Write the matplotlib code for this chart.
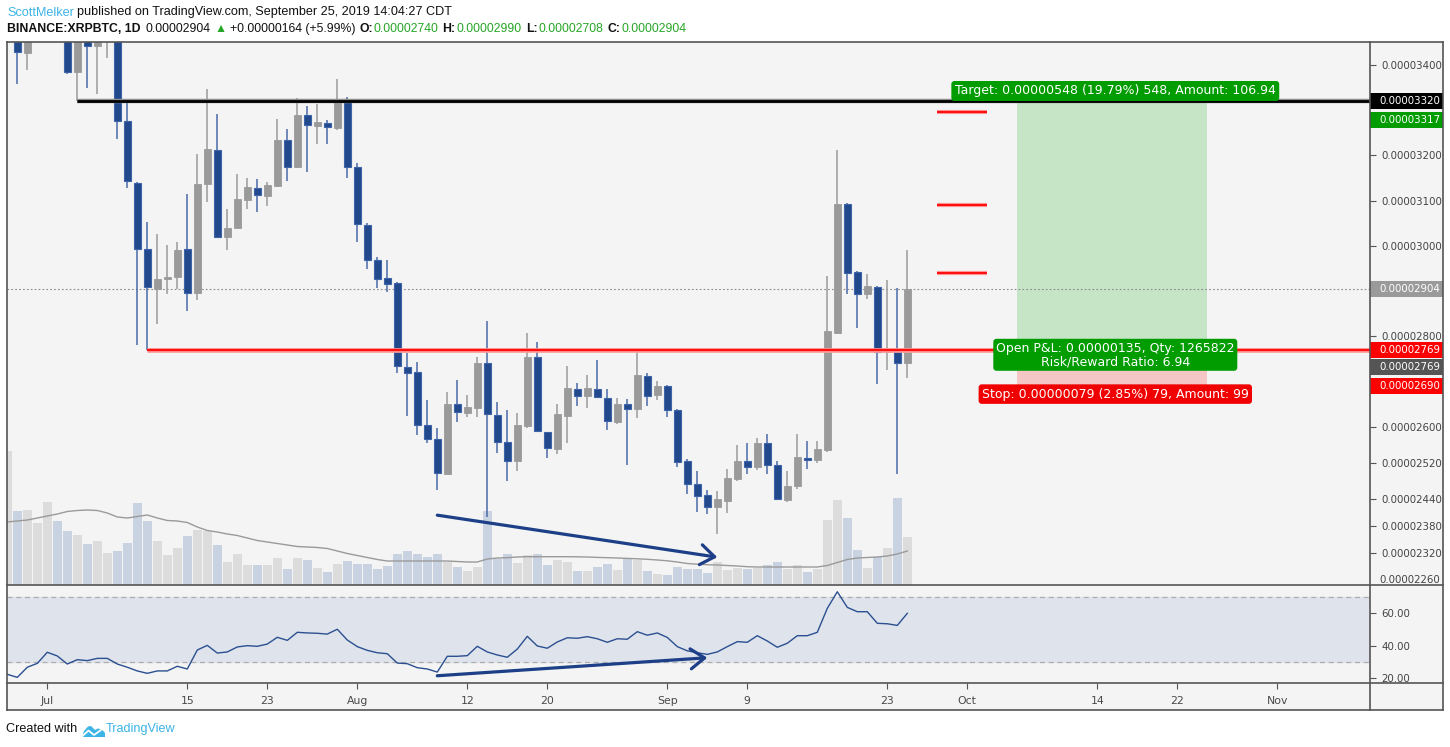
import numpy as np
import pandas as pd
import matplotlib
matplotlib.use('Agg')
import matplotlib.pyplot as plt
import matplotlib.dates as mdates
from matplotlib import font_manager
from matplotlib.lines import Line2D
from matplotlib.patches import Rectangle, FancyArrowPatch, Polygon
from matplotlib.transforms import (blended_transform_factory, ScaledTranslation,
                                   Bbox, TransformedBbox)

# ---- data: XRPBTC daily candles, prices in satoshi (1e-8 BTC) ----
dates = pd.date_range('2019-06-27', '2019-09-25', freq='D')

opens = [3470, 3520, 3427, 3505, 3570, 3610, 3520, 3385, 3470, 3441,
         3462, 3480, 3276, 3140, 2992, 2905, 2927, 2930, 2992, 2895,
         3137, 3211, 3020, 3040, 3102, 3128, 3111, 3133, 3234, 3174,
         3289, 3266, 3271, 3261, 3322, 3174, 3045, 2968, 2929, 2917,
         2731, 2720, 2603, 2572, 2496, 2651, 2631, 2642, 2740, 2625,
         2565, 2523, 2602, 2755, 2587, 2551, 2624, 2683, 2668, 2683,
         2663, 2611, 2651, 2640, 2711, 2670, 2689, 2636, 2523, 2473,
         2448, 2422, 2436, 2484, 2523, 2511, 2563, 2514, 2437, 2469,
         2531, 2526, 2548, 2807, 3093, 2942, 2894, 2909, 2764, 2768,
         2740]
highs = [3560, 3540, 3530, 3600, 3650, 3630, 3540, 3490, 3490, 3480,
         3500, 3495, 3325, 3142, 3052, 3026, 3002, 3008, 3115, 3203,
         3347, 3291, 3081, 3159, 3150, 3148, 3141, 3280, 3258, 3327,
         3309, 3314, 3278, 3369, 3329, 3184, 3050, 2975, 2968, 2920,
         2763, 2743, 2659, 2597, 2677, 2703, 2670, 2753, 2834, 2654,
         2637, 2630, 2807, 2787, 2589, 2650, 2734, 2696, 2714, 2748,
         2683, 2664, 2660, 2768, 2719, 2701, 2692, 2638, 2528, 2502,
         2460, 2457, 2506, 2560, 2564, 2575, 2584, 2524, 2502, 2584,
         2568, 2568, 2933, 3212, 3094, 2944, 2938, 2910, 2924, 2907,
         2990]
lows = [3460, 3357, 3390, 3470, 3530, 3480, 3381, 3320, 3350, 3335,
        3416, 3236, 3127, 2780, 2769, 2828, 2894, 2905, 2856, 2881,
        3098, 3018, 2991, 3039, 3082, 3075, 3089, 3131, 3144, 3173,
        3164, 3226, 3226, 3257, 3151, 3009, 2948, 2907, 2898, 2719,
        2624, 2582, 2564, 2460, 2494, 2611, 2622, 2622, 2401, 2542,
        2480, 2502, 2596, 2588, 2531, 2540, 2564, 2646, 2642, 2663,
        2593, 2606, 2516, 2618, 2646, 2658, 2622, 2511, 2450, 2411,
        2407, 2362, 2409, 2480, 2496, 2504, 2496, 2438, 2433, 2463,
        2507, 2520, 2544, 2805, 2893, 2819, 2883, 2694, 2726, 2494,
        2708]
closes = [3520, 3428, 3505, 3570, 3610, 3520, 3385, 3470, 3441, 3462,
          3480, 3276, 3143, 2992, 2908, 2926, 2930, 2991, 2895, 3137,
          3214, 3020, 3039, 3103, 3130, 3112, 3134, 3234, 3175, 3289,
          3267, 3274, 3262, 3322, 3174, 3048, 2968, 2927, 2916, 2733,
          2719, 2603, 2572, 2497, 2651, 2632, 2643, 2741, 2627, 2565,
          2523, 2604, 2755, 2590, 2552, 2628, 2685, 2667, 2685, 2665,
          2612, 2651, 2640, 2714, 2668, 2690, 2636, 2521, 2472, 2447,
          2423, 2440, 2486, 2524, 2511, 2564, 2514, 2439, 2469, 2532,
          2526, 2550, 2811, 3093, 2940, 2894, 2911, 2764, 2768, 2740,
          2904]
# volume in millions of XRP
volume = [134, 74, 75, 62, 83, 64, 54, 50, 41, 44,
          32, 34, 42, 82, 64, 44, 30, 37, 49, 55,
          54, 40, 23, 31, 20, 20, 20, 27, 16, 27,
          25, 17, 13, 21, 24, 21, 21, 16, 19, 31,
          34, 31, 28, 31, 23, 18, 14, 18, 74, 26,
          31, 22, 30, 31, 20, 25, 23, 14, 14, 18,
          21, 15, 26, 25, 14, 11, 10, 18, 16, 16,
          12, 23, 15, 17, 16, 17, 20, 23, 16, 20,
          13, 16, 65, 85, 67, 35, 17, 28, 37, 87,
          48]
volume_ma = [63, 64, 65, 67, 69, 71, 73.5, 74.5, 75, 74.5,
             72, 68, 67, 68.5, 70, 67, 64.5, 64, 62.5, 58,
             54.5, 53, 51, 49.5, 47, 44.5, 43, 41.5, 40, 38.5,
             38, 37.5, 36.5, 34, 31.5, 29.5, 27.5, 25.5, 24, 24,
             24, 24, 24, 24, 24, 23.5, 23, 23, 26, 27,
             27.3, 28, 28.3, 28.3, 28.3, 28.3, 28.3, 28.2, 28, 27.6,
             27.3, 27, 26.6, 26.2, 25.7, 25, 24.2, 23, 21.5, 20.8,
             20.3, 20, 19.5, 19, 18.3, 18, 18, 18, 18, 18,
             18, 18, 19.5, 22.5, 25.5, 27, 27.5, 28, 29, 31,
             34]
rsi = [22.1, 20.2, 26.5, 28.9, 35.8, 33.5, 28.5, 31.2, 30.6, 32.0,
       32.0, 28.5, 26.5, 24.2, 22.7, 24.2, 24.2, 27.1, 25.4, 37.2,
       40.1, 35.3, 36.0, 39.1, 39.9, 39.5, 40.9, 45.1, 43.2, 48.2,
       47.8, 47.6, 47.1, 50.1, 43.4, 39.3, 37.0, 35.5, 34.9, 29.1,
       28.7, 26.2, 25.4, 23.5, 33.3, 33.3, 33.7, 39.5, 36.0, 34.1,
       32.7, 37.8, 45.7, 39.7, 38.3, 42.2, 44.8, 44.5, 45.5, 44.2,
       42.0, 44.2, 43.9, 48.6, 46.4, 47.8, 45.0, 39.3, 36.7, 35.5,
       34.5, 36.0, 39.3, 42.4, 42.0, 46.1, 42.8, 38.9, 41.4, 46.1,
       46.1, 48.2, 63.1, 73.4, 63.7, 61.0, 61.0, 53.8, 53.5, 52.5,
       60.0]

price_ticks = [3400, 3200, 3100, 3000, 2800, 2600, 2520, 2440, 2380, 2320]
price_tick_cut = 2260
rsi_ticks = [20, 40, 60]
tick_dates = ['2019-07-01', '2019-07-15', '2019-07-23', '2019-08-01', '2019-08-12',
              '2019-08-20', '2019-09-01', '2019-09-09', '2019-09-23', '2019-10-01',
              '2019-10-14', '2019-10-22', '2019-11-01']
tick_labels = ['Jul', '15', '23', 'Aug', '12', '20', 'Sep', '9', '23', 'Oct', '14', '22', 'Nov']

# drawings
resistance, resistance_from = 3320, '2019-07-04'
entry, entry_from = 2769, '2019-07-11'
target, stop = 3317, 2690
pos_from, pos_to = '2019-10-06', '2019-10-25'
qty, amount_target, amount_stop = 1265822, '106.94', '99'
target_marks = [3297, 3091, 2940]
marks_from, marks_to = '2019-09-28', '2019-10-03'
vol_trend_dates, vol_trend_prices = ['2019-08-09', '2019-09-06'], [2404, 2311]
rsi_trend_dates, rsi_trend_vals = ['2019-08-09', '2019-09-05'], [21.2, 32.4]

# ---- layout (pixels) ----
W, H = 1450, 747
L, R, AXR = 7, 1370, 1443
TOP, MID, RSIB, BOT = 42, 585, 683, 710
P_TOP, P_BOT = 3450.9, 2249.5
RSI_TOP, RSI_BOT = 77.6, 16.7

avail = {f.name for f in font_manager.fontManager.ttflist}
HEAD = 'Liberation Sans' if 'Liberation Sans' in avail else 'DejaVu Sans'
plt.rcParams['font.family'] = ['DejaVu Sans']

fig = plt.figure(figsize=(W / 100, H / 100), dpi=100)
fig.patch.set_facecolor('white')


def box(x0, y0, x1, y1):
    return [x0 / W, 1 - y1 / H, (x1 - x0) / W, (y1 - y0) / H]


def fx(x):
    return x / W


def fy(y):
    return 1 - y / H


fig.add_artist(Rectangle((fx(L), fy(BOT)), fx(AXR) - fx(L), fy(TOP) - fy(BOT),
                         transform=fig.transFigure, fc='#f4f4f4', ec='none', zorder=-5))

x = mdates.date2num(dates)
o, h, l, c = map(np.array, (opens, highs, lows, closes))
up = c >= o
x0 = mdates.date2num(pd.Timestamp('2019-06-27'))
xlim = (x0 - 0.03, x0 + (R - L - 0.3) / 10)

ax_vol = fig.add_axes(box(L, TOP, R, MID))
ax_main = fig.add_axes(box(L, TOP, R, MID), sharex=ax_vol)
ax_rsi = fig.add_axes(box(L, MID, R, RSIB), sharex=ax_vol)
ax_vol.set_zorder(1)
ax_main.set_zorder(2)
ax_rsi.set_zorder(2)
for a in (ax_vol, ax_main, ax_rsi):
    a.set_facecolor('none')
    for s in a.spines.values():
        s.set_visible(False)
ax_vol.set_xlim(*xlim)

# volume
ax_vol.bar(x, volume, width=0.9, color=np.where(up, '#dcdcdc', '#c9d2e0'), zorder=2)
ax_vol.plot(x, volume_ma, color='#9a9a9a', lw=1, zorder=3)
ax_vol.set_ylim(0, MID - TOP)
ax_vol.set_yticks([])
ax_vol.tick_params(bottom=False, labelbottom=False)

# candles
ax = ax_main
body_lo = np.minimum(o, c)
body_h = np.maximum(np.abs(c - o), 2)
ax.vlines(x[up], l[up], h[up], color='#9a9a9a', lw=1.1, zorder=3)
ax.vlines(x[~up], l[~up], h[~up], color='#4a6aa8', lw=1.1, zorder=3)
ax.bar(x[up], body_h[up], bottom=body_lo[up], width=0.64, color='#9a9a9a',
       edgecolor='#9a9a9a', lw=0.6, zorder=4)
ax.bar(x[~up], body_h[~up], bottom=body_lo[~up], width=0.64, color='#21498c',
       edgecolor='#3d64a8', lw=0.8, zorder=4)
ax.set_ylim(P_BOT, P_TOP)

far = mdates.date2num(pd.Timestamp('2020-01-31'))
ax.axhline(c[-1], color='#8a8a8a', lw=0.8, ls=(0, (1.5, 2)), zorder=2)
rx = mdates.date2num(pd.Timestamp(resistance_from))
ax.hlines(resistance, rx, far, color='#8c8c8c', lw=3.2, zorder=5)
ax.hlines(resistance, rx, far, color='#000000', lw=2.0, zorder=5)
ex = mdates.date2num(pd.Timestamp(entry_from))
ax.hlines(entry, ex, far, color='#ff9a9a', lw=3.4, zorder=5)
ax.hlines(entry, ex, far, color='#ff1010', lw=1.6, zorder=5)
mx0, mx1 = mdates.date2num(pd.Timestamp(marks_from)), mdates.date2num(pd.Timestamp(marks_to))
ax.hlines(target_marks, mx0, mx1, color='#ff9a9a', lw=3.0, zorder=5)
ax.hlines(target_marks, mx0, mx1, color='#ff1010', lw=1.5, zorder=5)

# long position tool
px0, px1 = mdates.date2num(pd.Timestamp(pos_from)), mdates.date2num(pd.Timestamp(pos_to))
ax.add_patch(Rectangle((px0, entry), px1 - px0, target - entry, fc='#c6e5c6', ec='none', zorder=1))
ax.add_patch(Rectangle((px0, stop), px1 - px0, entry - stop, fc='#f5c6c6', ec='none', zorder=1))
pmid = (px0 + px1) / 2 + 0.3
lab_kw = dict(ha='center', va='center', color='white', fontsize=9, zorder=7,
              textcoords='offset points', annotation_clip=False)
gain, loss = target - entry, entry - stop
ax.annotate(f"Target: {gain * 1e-8:.8f} ({gain / entry * 100:.2f}%) {gain}, Amount: {amount_target}",
            (pmid, target), xytext=(0, 8.3),
            bbox=dict(boxstyle='round,pad=0.28,rounding_size=0.25', fc='#009c00', ec='none'), **lab_kw)
ax.annotate(f"Open P&L: {(c[-1] - entry) * 1e-8:.8f}, Qty: {qty}\nRisk/Reward Ratio: {gain / loss:.2f}",
            (pmid, entry), xytext=(0, -3.3), linespacing=1.05,
            bbox=dict(boxstyle='round,pad=0.22,rounding_size=0.25', fc='#009c00', ec='none'), **lab_kw)
ax.annotate(f"Stop: {loss * 1e-8:.8f} ({loss / entry * 100:.2f}%) {loss}, Amount: {amount_stop}",
            (pmid, stop), xytext=(0, -5.9),
            bbox=dict(boxstyle='round,pad=0.26,rounding_size=0.25', fc='#f00000', ec='none'), **lab_kw)

# trend arrows
arrow_kw = dict(arrowstyle='->,head_length=0.5,head_width=0.36', mutation_scale=20,
                color='#1d3f88', lw=2.3, shrinkA=0, shrinkB=0, zorder=6)
vd = mdates.date2num(pd.to_datetime(vol_trend_dates))
ax.add_patch(FancyArrowPatch((vd[0], vol_trend_prices[0]), (vd[1], vol_trend_prices[1]), **arrow_kw))

# price scale
ax.yaxis.tick_right()
ax.set_yticks(price_ticks)
ax.set_yticklabels([f"{v * 1e-8:.8f}" for v in price_ticks])
ax.tick_params(axis='y', direction='out', length=4, width=0.8, color='#555555', pad=4,
               labelsize=7.4, labelcolor='#444444')
ax.tick_params(axis='x', bottom=False, labelbottom=False)
col = blended_transform_factory(ax.transAxes, ax.transData)
lx = 1 + 9 / (R - L)
t = ax.text(lx, price_tick_cut, f"{price_tick_cut * 1e-8:.8f}", transform=col, va='center',
            ha='left', fontsize=7.4, color='#444444', clip_on=True)
t.set_clip_box(TransformedBbox(Bbox([[1.0, 0.0], [1.06, 1.0]]), ax.transAxes))

ppx = (P_TOP - P_BOT) / (MID - TOP)
tags = [(resistance, '#000000', 0), (target, '#009c00', 17), (c[-1], '#9a9a9a', 0),
        (entry, '#ff0000', 0), (entry, '#555555', 17), (stop, '#ff0000', 0)]
for price, color, shift in tags:
    tr = col + ScaledTranslation(0, -shift / 100, fig.dpi_scale_trans)
    ax.add_patch(Rectangle((1.0, price - 8 * ppx), (AXR - R) / (R - L), 16 * ppx, transform=tr,
                           fc=color, ec='none', clip_on=False, zorder=8))
    ax.text(lx, price, f"{price * 1e-8:.8f}", transform=tr, va='center', ha='left',
            fontsize=7.4, color='white', zorder=9, clip_on=False)

# RSI
ax_rsi.axhspan(30, 70, color='#dfe4ec', zorder=0)
ax_rsi.axhline(70, color='#adadad', lw=0.9, ls=(0, (4, 3)), zorder=1)
ax_rsi.axhline(30, color='#adadad', lw=0.9, ls=(0, (4, 3)), zorder=1)
ax_rsi.plot(x, rsi, color='#2b4f90', lw=1, zorder=3)
rd = mdates.date2num(pd.to_datetime(rsi_trend_dates))
ax_rsi.add_patch(FancyArrowPatch((rd[0], rsi_trend_vals[0]), (rd[1], rsi_trend_vals[1]), **arrow_kw))
ax_rsi.set_ylim(RSI_BOT, RSI_TOP)
ax_rsi.yaxis.tick_right()
ax_rsi.set_yticks(rsi_ticks)
ax_rsi.set_yticklabels([f"{v:.2f}" for v in rsi_ticks])
ax_rsi.tick_params(axis='y', direction='out', length=4, width=0.8, color='#555555', pad=4,
                   labelsize=7.4, labelcolor='#444444')
ax_rsi.set_xticks(mdates.date2num(pd.to_datetime(tick_dates)))
ax_rsi.set_xticklabels(tick_labels)
ax_rsi.tick_params(axis='x', direction='out', length=4, width=0.8, color='#555555', pad=5,
                   labelsize=7.8, labelcolor='#4a4a4a')
ax_rsi.set_xlim(*xlim)

# frame
frame = [((L, AXR), (TOP, TOP)), ((L, AXR), (BOT, BOT)), ((L, L), (TOP, BOT)),
         ((AXR, AXR), (TOP, BOT)), ((R, R), (TOP, BOT)), ((L, AXR), (MID, MID)),
         ((L, AXR), (RSIB, RSIB))]
for xs, ys in frame:
    fig.add_artist(Line2D([fx(v) for v in xs], [fy(v) for v in ys], transform=fig.transFigure,
                          color='#555555', lw=1.2, zorder=10))

# header and footer text
renderer = fig.canvas.get_renderer()


def runs(xp, yp, parts, size):
    for txt, color, weight, gap in parts:
        tt = fig.text(fx(xp), fy(yp), txt, color=color, fontsize=size, fontweight=weight,
                      family=[HEAD, 'DejaVu Sans'], va='center', ha='left')
        xp += tt.get_window_extent(renderer=renderer).width + gap
    return xp


blue_tv, green = '#3cb4e6', '#26a626'
runs(7, 12.5, [('ScottMelker', blue_tv, 'normal', 3),
               ('published on TradingView.com, September 25, 2019 14:04:27 CDT', '#111111', 'normal', 0)], 9.1)
chg = c[-1] - c[-2]
runs(7, 29, [('BINANCE:XRPBTC, 1D', '#111111', 'bold', 5),
             (f"{c[-1] * 1e-8:.8f}", '#111111', 'normal', 4),
             ('\u25b2', green, 'normal', 3),
             (f"+{chg * 1e-8:.8f} (+{chg / c[-2] * 100:.2f}%)", '#111111', 'normal', 4),
             ('O:', '#111111', 'bold', 1), (f"{o[-1] * 1e-8:.8f}", green, 'normal', 4),
             ('H:', '#111111', 'bold', 1), (f"{h[-1] * 1e-8:.8f}", green, 'normal', 4),
             ('L:', '#111111', 'bold', 1), (f"{l[-1] * 1e-8:.8f}", green, 'normal', 4),
             ('C:', '#111111', 'bold', 1), (f"{c[-1] * 1e-8:.8f}", green, 'normal', 0)], 8.8)

runs(6, 729, [('Created with', '#111111', 'normal', 0)], 9.1)
logo = [(82, 737), (84, 731), (88, 726.5), (91, 726), (95, 730), (98, 728.5), (102, 729.5),
        (105, 733), (105, 737)]
fig.add_artist(Polygon([(fx(a), fy(b)) for a, b in logo], closed=True, transform=fig.transFigure,
                       fc=blue_tv, ec='none', zorder=10))
zig = [(82.5, 736), (88.5, 730.5), (94, 735), (104.5, 727.5)]
fig.add_artist(Line2D([fx(a) for a, b in zig], [fy(b) for a, b in zig], transform=fig.transFigure,
                      color='white', lw=1.3, zorder=11))
runs(106, 729, [('TradingView', blue_tv, 'normal', 0)], 9.1)

fig.savefig('out.png', dpi=100, facecolor='white')
